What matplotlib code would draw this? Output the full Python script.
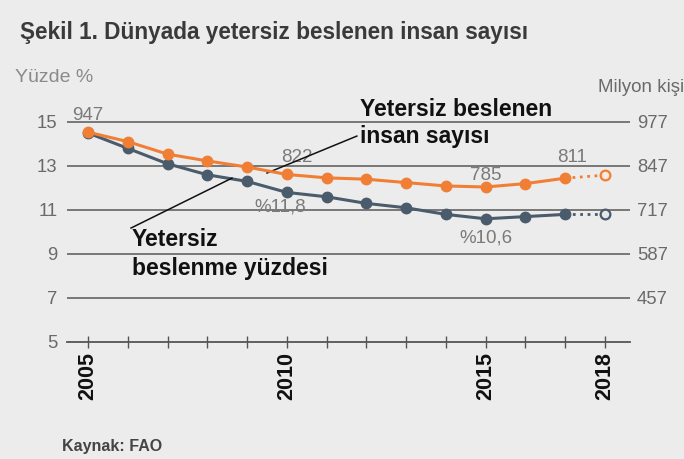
import matplotlib
matplotlib.use("Agg")
import matplotlib.pyplot as plt

plt.rcParams['font.family'] = ['Liberation Sans', 'DejaVu Sans']

years = [2005, 2006, 2007, 2008, 2009, 2010, 2011, 2012, 2013, 2014, 2015, 2016, 2017, 2018]
pct = [14.5, 13.8, 13.1, 12.6, 12.3, 11.8, 11.6, 11.3, 11.1, 10.8, 10.6, 10.7, 10.8, 10.8]
people = [947, 919, 882, 862, 844, 822, 812, 808, 798, 788, 785, 795, 811, 820]
left_ticks = [5, 7, 9, 11, 13, 15]
right_ticks = [457, 587, 717, 847, 977]
xlabel_years = [2005, 2010, 2015, 2018]

BG = '#ececec'
ORANGE = '#f07f35'
BLUE = '#4a5b6b'
GRID = '#6e6e6e'
TXT = '#7a7a7a'

W, H = 684, 459
fig = plt.figure(figsize=(W / 100, H / 100), dpi=100, facecolor=BG)

def fx(px):
    return px / W

def fy(py):
    return 1 - py / H

ax = fig.add_axes([fx(67), fy(342), fx(630) - fx(67), (342 - 111) / H])
ax.set_facecolor(BG)
ax.set_xlim(2004.47, 2018.63)
ax.set_ylim(5, 15.5)

# right axis mapping: 15 -> 977, 13 -> 847  (65 per unit)
def to_right(v):
    return 977 - (15 - v) * 65

ax2 = ax.twinx()
ax2.set_ylim(to_right(5), to_right(15.5))

for s in ['top', 'right', 'left']:
    ax.spines[s].set_visible(False)
    ax2.spines[s].set_visible(False)
ax2.spines['bottom'].set_visible(False)
ax.spines['bottom'].set_color('#555555')
ax.spines['bottom'].set_linewidth(1.3)

for g in left_ticks[1:]:
    ax.axhline(g, color=GRID, lw=1.3, zorder=1)

ax.set_yticks(left_ticks)
ax.set_yticklabels([str(t) for t in left_ticks], color='#6a6a6a', fontsize=13.3)
ax.tick_params(axis='y', length=0, pad=7)

ax2.set_yticks(right_ticks)
ax2.set_yticklabels([str(t) for t in right_ticks], color='#6a6a6a', fontsize=13.3)
ax2.tick_params(axis='y', length=0, pad=5)

ax.set_xticks(years)
ax.set_xticklabels([str(y) if y in xlabel_years else '' for y in years],
                   rotation=90, fontsize=15.5, fontweight='bold', color='#111111')
ax.tick_params(axis='x', direction='inout', length=8, width=1, color='#555555', pad=3)

# series lines (solid up to 2017, dotted to 2018)
ax2.plot(years[:-1], people[:-1], color=ORANGE, lw=2.2, marker='o', ms=7.5, zorder=4)
ax2.plot(years[-2:], people[-2:], color=ORANGE, lw=2, ls=':', zorder=4)
ax2.plot(years[-1:], people[-1:], ls='none', marker='o', ms=7, mfc='#fbe9dc', mec=ORANGE, mew=1.6, zorder=5)

ax.plot(years[:-1], pct[:-1], color=BLUE, lw=2.2, marker='o', ms=7.5, zorder=3)
ax.plot(years[-2:], pct[-2:], color=BLUE, lw=2, ls=':', zorder=3)
ax.plot(years[-1:], pct[-1:], ls='none', marker='o', ms=7, mfc='#e8e8e8', mec=BLUE, mew=1.6, zorder=5)
ax.set_zorder(ax2.get_zorder() - 1)
ax.patch.set_visible(True)
ax2.patch.set_visible(False)

# value labels
ax.text(2005, 15.3, '947', color=TXT, fontsize=13.5, ha='center', va='center', zorder=0.5)
ax.text(2010.25, 13.38, '822', color=TXT, fontsize=13.5, ha='center', va='center', zorder=6)
ax.text(2009.83, 11.15, '%11,8', color=TXT, fontsize=13.5, ha='center', va='center', zorder=6)
ax.text(2015, 12.55, '785', color=TXT, fontsize=13.5, ha='center', va='center', zorder=6)
ax.text(2015, 9.74, '%10,6', color=TXT, fontsize=13.5, ha='center', va='center', zorder=6)
ax.text(2017.17, 13.38, '811', color=TXT, fontsize=13.5, ha='center', va='center', zorder=6)

# pointer lines
ax.plot([2006.08, 2008.62], [10.18, 12.45], color='#111111', lw=1.1, zorder=6)
ax.plot([2011.76, 2009.5], [14.36, 12.68], color='#111111', lw=1.1, zorder=6)

# annotation texts
fig.text(fx(360), fy(109), 'Yetersiz beslenen', fontsize=16.5, fontweight='bold', color='#111111', va='center')
fig.text(fx(360), fy(136), 'insan sayısı', fontsize=16.5, fontweight='bold', color='#111111', va='center')
fig.text(fx(132), fy(240), 'Yetersiz', fontsize=16.5, fontweight='bold', color='#111111', va='center')
fig.text(fx(132), fy(268), 'beslenme yüzdesi', fontsize=16.5, fontweight='bold', color='#111111', va='center')

# titles and captions
fig.text(fx(20), fy(32), 'Şekil 1. Dünyada yetersiz beslenen insan sayısı', fontsize=16.3,
         fontweight='bold', color='#3a3a3a', va='center')
fig.text(fx(15), fy(77), 'Yüzde %', fontsize=14, color='#8a8a8a', va='center')
fig.text(fx(598), fy(88), 'Milyon kişi', fontsize=13.5, color='#6a6a6a', va='center')
fig.text(fx(62), fy(446), 'Kaynak: FAO', fontsize=11.5, fontweight='bold', color='#444444', va='center')

fig.savefig('out.png', dpi=100, facecolor=BG)
